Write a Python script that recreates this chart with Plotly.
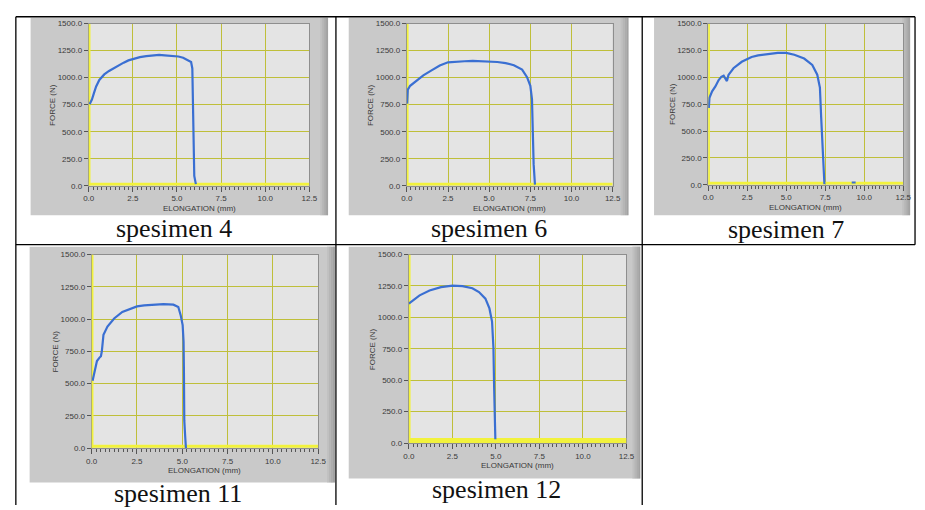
import plotly.graph_objects as go

W, H = 925, 510

# ---------------- data ----------------
captions = ["spesimen 4", "spesimen 6", "spesimen 7", "spesimen 11", "spesimen 12"]

s4_x = [0.05, 0.18, 0.30, 0.42, 0.60, 0.88, 1.15, 1.43, 1.70, 1.98, 2.25, 2.53, 2.90, 3.26, 3.60, 3.99, 4.30, 4.54, 4.80, 5.08, 5.35, 5.56, 5.80, 5.87, 5.90, 5.92, 5.98, 6.07]
s4_y = [755, 798, 860, 919, 979, 1030, 1062, 1090, 1118, 1139, 1160, 1175, 1190, 1199, 1207, 1211, 1206, 1205, 1200, 1196, 1185, 1169, 1145, 1085, 783, 330, 90, 15]

s6_x = [0.02, 0.06, 0.20, 0.50, 1.00, 1.50, 2.00, 2.50, 3.00, 3.50, 4.00, 4.50, 5.00, 5.50, 6.00, 6.50, 7.00, 7.30, 7.50, 7.60, 7.65, 7.70, 7.78]
s6_y = [760, 890, 925, 960, 1022, 1068, 1112, 1142, 1150, 1152, 1156, 1153, 1150, 1145, 1135, 1115, 1075, 1005, 925, 800, 500, 200, 10]

s7_x = [0.04, 0.08, 0.25, 0.46, 0.67, 0.84, 0.99, 1.10, 1.20, 1.30, 1.62, 2.15, 2.78, 3.20, 3.62, 4.05, 4.46, 5.00, 5.52, 6.15, 6.67, 6.99, 7.16, 7.24, 7.33, 7.41, 7.45]
s7_y = [715, 810, 870, 915, 975, 1005, 1015, 990, 965, 1023, 1085, 1145, 1190, 1205, 1215, 1222, 1228, 1228, 1210, 1175, 1115, 1025, 905, 630, 320, 70, 5]
s7_tail_x = [9.2, 9.45]
s7_tail_y = [22, 22]

s11_x = [0.05, 0.15, 0.29, 0.42, 0.51, 0.56, 0.65, 0.87, 1.24, 1.69, 2.15, 2.50, 2.90, 3.24, 3.60, 3.96, 4.25, 4.51, 4.78, 4.91, 5.02, 5.07, 5.09, 5.11, 5.16, 5.20]
s11_y = [521, 597, 674, 699, 712, 750, 877, 941, 1004, 1055, 1080, 1098, 1106, 1111, 1113, 1116, 1113, 1111, 1093, 1030, 953, 826, 597, 216, 89, 0]

s12_x = [0.00, 0.25, 0.62, 1.19, 1.85, 2.51, 3.08, 3.65, 4.03, 4.40, 4.63, 4.78, 4.86, 4.90, 4.93, 4.97]
s12_y = [1110, 1136, 1175, 1214, 1240, 1253, 1248, 1232, 1201, 1149, 1071, 967, 759, 447, 161, 31]

series_x = [s4_x, s6_x, s7_x, s11_x, s12_x]
series_y = [s4_y, s6_y, s7_y, s11_y, s12_y]

# yellow reference series (flat line at the bottom of each graph)
yellow_x = [0, 12.5]
yellow_levels = [14, 14, 14, 14, 21]

x_ticks = [0.0, 2.5, 5.0, 7.5, 10.0, 12.5]
y_ticks = [0.0, 250.0, 500.0, 750.0, 1000.0, 1250.0, 1500.0]

# ---------------- layout geometry (pixels) ----------------
# plot areas: (x0, x1, y0, y1)
plots = [
    (84, 308, 20, 185),
    (407, 616, 20, 185),
    (713, 911, 20, 184),
    (87, 317, 255, 452),
    (409, 630, 255, 447),
]
frames = [
    (25, 327, 14, 215),
    (348, 632, 14, 215),
    (658, 918, 14, 215),
    (24, 334, 247, 487),
    (348, 644, 247, 483),
]
cap_pos = [(171, 229), (490, 229), (792, 230), (175, 498), (498, 494)]

def px(x):
    return x / W

def py(y):
    return 1 - y / H

BLUE = "#3a6fd2"
YEL = "#f2f23c"
GRID = "#bfbf3a"
FONT = "Liberation Sans"

fig = go.Figure()
shapes = []
annotations = []

for i in range(5):
    n = "" if i == 0 else str(i + 1)
    xa, ya = "x" + n, "y" + n
    x0, x1, y0, y1 = plots[i]
    fx0, fx1, fy0, fy1 = frames[i]

    # gray panel frame with darker right edge
    shapes.append(dict(type="rect", xref="paper", yref="paper", layer="below",
                       x0=px(fx0), x1=px(fx1), y0=py(fy1), y1=py(fy0),
                       fillcolor="#c9c9c9", line=dict(width=0)))
    for k, c in enumerate(["#c0c0c0", "#b6b6b6", "#acacac", "#a2a2a2"]):
        shapes.append(dict(type="rect", xref="paper", yref="paper", layer="below",
                           x0=px(fx1 - 8 + 2 * k), x1=px(fx1 - 6 + 2 * k), y0=py(fy1), y1=py(fy0),
                           fillcolor=c, line=dict(width=0)))
    # light plot-area background
    shapes.append(dict(type="rect", xref="paper", yref="paper", layer="below",
                       x0=px(x0), x1=px(x1), y0=py(y1), y1=py(y0),
                       fillcolor="#e4e4e4", line=dict(width=0)))

    # yellow series (vertical at x=0 and flat at the bottom)
    fig.add_trace(go.Scatter(x=[0.03, 0.03], y=[0, 1500], xaxis=xa, yaxis=ya, mode="lines",
                             line=dict(color=YEL, width=2.5), hoverinfo="skip", showlegend=False))
    fig.add_trace(go.Scatter(x=yellow_x, y=[yellow_levels[i]] * 2, xaxis=xa, yaxis=ya, mode="lines",
                             line=dict(color=YEL, width=3 if i < 4 else 5), hoverinfo="skip", showlegend=False))
    # force-elongation curve
    fig.add_trace(go.Scatter(x=series_x[i], y=series_y[i], xaxis=xa, yaxis=ya, mode="lines",
                             line=dict(color=BLUE, width=2.2), showlegend=False))
    if i == 2:
        fig.add_trace(go.Scatter(x=s7_tail_x, y=s7_tail_y, xaxis=xa, yaxis=ya, mode="lines",
                                 line=dict(color=BLUE, width=2), showlegend=False))

    common = dict(showgrid=True, gridcolor=GRID, gridwidth=1, zeroline=False,
                  showline=True, linecolor="#8e8e8e", linewidth=1, mirror=True,
                  layer="below traces", ticks="outside", tickcolor="#555555",
                  tickfont=dict(family=FONT, size=8, color="#3a3a3a"), fixedrange=True)
    fig.update_layout(**{
        ("xaxis" + n): dict(domain=[px(x0), px(x1)], anchor=ya, range=[0, 12.5],
                            tickvals=x_ticks, ticktext=["%.1f" % v for v in x_ticks],
                            ticklen=5, minor=dict(dtick=0.25, ticklen=3, ticks="outside",
                                                  tickcolor="#555555", showgrid=False),
                            **common),
        ("yaxis" + n): dict(domain=[py(y1), py(y0)], anchor=xa, range=[0, 1500],
                            tickvals=y_ticks, ticktext=["%.1f" % v for v in y_ticks],
                            ticklen=4, **common),
    })

    # axis titles
    annotations.append(dict(text="ELONGATION (mm)", xref="paper", yref="paper",
                            x=px((x0 + x1) / 2), y=py(y1 + 23), showarrow=False,
                            xanchor="center", yanchor="middle",
                            font=dict(family=FONT, size=8, color="#3a3a3a")))
    annotations.append(dict(text="FORCE (N)", xref="paper", yref="paper",
                            x=px(x0 - 37), y=py((y0 + y1) / 2), showarrow=False, textangle=-90,
                            xanchor="center", yanchor="middle",
                            font=dict(family=FONT, size=8, color="#3a3a3a")))
    # caption
    cx, cy = cap_pos[i]
    annotations.append(dict(text=captions[i], xref="paper", yref="paper",
                            x=px(cx), y=py(cy), showarrow=False, xanchor="center", yanchor="middle",
                            font=dict(family="Liberation Serif", size=26, color="#111111")))

# table borders
def hline(y, xa, xb):
    shapes.append(dict(type="line", xref="paper", yref="paper", layer="above",
                       x0=px(xa), x1=px(xb), y0=py(y), y1=py(y), line=dict(color="#000000", width=1.3)))

def vline(x, ya, yb):
    shapes.append(dict(type="line", xref="paper", yref="paper", layer="above",
                       x0=px(x), x1=px(x), y0=py(ya), y1=py(yb), line=dict(color="#000000", width=1.3)))

hline(13, 10, 923)
hline(245, 10, 923)
vline(10, 13, 510)
vline(335, 13, 510)
vline(646, 13, 510)
vline(923, 13, 245)

fig.update_layout(width=W, height=H, autosize=False,
                  margin=dict(l=0, r=0, t=0, b=0),
                  paper_bgcolor="#ffffff", plot_bgcolor="#e4e4e4",
                  shapes=shapes, annotations=annotations, showlegend=False)

fig.write_html("out.html", config={"displayModeBar": False},
               post_script="document.body.style.margin='0px';document.body.style.overflow='hidden';")
